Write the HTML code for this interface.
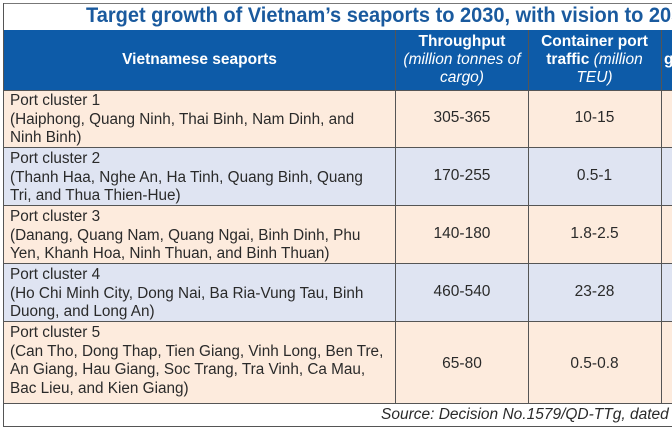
<!DOCTYPE html>
<html><head><meta charset="utf-8"><style>
*{margin:0;padding:0;box-sizing:border-box}
body{width:672px;height:432px;background:#fff;position:relative;overflow:hidden;font-family:"Liberation Sans",sans-serif;color:#2a2a2a}
.a{position:absolute}
.title{left:0;top:3px;width:800px;white-space:nowrap;font-weight:bold;font-size:21.5px;color:#1a5a9e;padding-left:86px;transform:scaleX(0.93);transform-origin:86px 0}
.hd{top:30px;height:60px;background:#0d5ba8;left:3px;width:669px}
.vl{width:1px;background:#555}
.hl{height:1px;background:#555;left:3px;width:669px}
.ht{color:#fff;font-weight:bold;font-size:15.5px;text-align:center;line-height:18px}
.ht i{font-weight:normal}
.r{left:4px;width:668px}
.t{left:10px;font-size:15.3px;line-height:18.5px;white-space:nowrap}
.n{font-size:15.5px;text-align:center}
</style></head><body>
<div class="a" style="left:3px;top:3px;width:669px;height:424px;border:1px solid #777;border-right:none"></div>
<div class="a title">Target growth of Vietnam’s seaports to 2030, with vision to 2050</div>
<div class="a hd"></div>
<div class="a ht" style="left:3px;width:393px;top:51px">Vietnamese seaports</div>
<div class="a ht" style="left:396px;width:132px;top:33px">Throughput<br><i>(million tonnes of cargo)</i></div>
<div class="a ht" style="left:532px;width:125px;top:33px">Container port traffic <i>(million TEU)</i></div>
<div class="a ht" style="left:664px;top:51px">g</div>

<div class="a r" style="top:90px;height:57px;background:#fdebdd"></div>
<div class="a r" style="top:147px;height:58px;background:#dfe4f2"></div>
<div class="a r" style="top:205px;height:58px;background:#fdebdd"></div>
<div class="a r" style="top:263px;height:58px;background:#dfe4f2"></div>
<div class="a r" style="top:321px;height:82px;background:#fdebdd"></div>

<div class="a hl" style="top:90px"></div>
<div class="a hl" style="top:147px"></div>
<div class="a hl" style="top:205px"></div>
<div class="a hl" style="top:263px"></div>
<div class="a hl" style="top:321px"></div>
<div class="a hl" style="top:403px"></div>
<div class="a hl" style="top:426px"></div>
<div class="a vl" style="left:395px;top:30px;height:373px"></div>
<div class="a vl" style="left:528px;top:30px;height:373px"></div>
<div class="a vl" style="left:661px;top:30px;height:373px"></div>
<div class="a vl" style="left:3px;top:3px;height:424px"></div>

<div class="a t" style="top:92px">Port cluster 1<br>(Haiphong, Quang Ninh, Thai Binh, Nam Dinh, and<br>Ninh Binh)</div>
<div class="a t" style="top:150px">Port cluster 2<br>(Thanh Haa, Nghe An, Ha Tinh, Quang Binh, Quang<br>Tri, and Thua Thien-Hue)</div>
<div class="a t" style="top:208px">Port cluster 3<br>(Danang, Quang Nam, Quang Ngai, Binh Dinh, Phu<br>Yen, Khanh Hoa, Ninh Thuan, and Binh Thuan)</div>
<div class="a t" style="top:266px">Port cluster 4<br>(Ho Chi Minh City, Dong Nai, Ba Ria-Vung Tau, Binh<br>Duong, and Long An)</div>
<div class="a t" style="top:324px">Port cluster 5<br>(Can Tho, Dong Thap, Tien Giang, Vinh Long, Ben Tre,<br>An Giang, Hau Giang, Soc Trang, Tra Vinh, Ca Mau,<br>Bac Lieu, and Kien Giang)</div>

<div class="a n" style="left:396px;width:132px;top:109px">305-365</div>
<div class="a n" style="left:528px;width:133px;top:109px">10-15</div>
<div class="a n" style="left:396px;width:132px;top:167px">170-255</div>
<div class="a n" style="left:528px;width:133px;top:167px">0.5-1</div>
<div class="a n" style="left:396px;width:132px;top:225px">140-180</div>
<div class="a n" style="left:528px;width:133px;top:225px">1.8-2.5</div>
<div class="a n" style="left:396px;width:132px;top:283px">460-540</div>
<div class="a n" style="left:528px;width:133px;top:283px">23-28</div>
<div class="a n" style="left:396px;width:132px;top:355px">65-80</div>
<div class="a n" style="left:528px;width:133px;top:355px">0.5-0.8</div>

<div class="a" style="left:381px;top:406px;font-size:15.5px;font-style:italic;white-space:nowrap">Source: Decision No.1579/QD-TTg, dated</div>
</body></html>
